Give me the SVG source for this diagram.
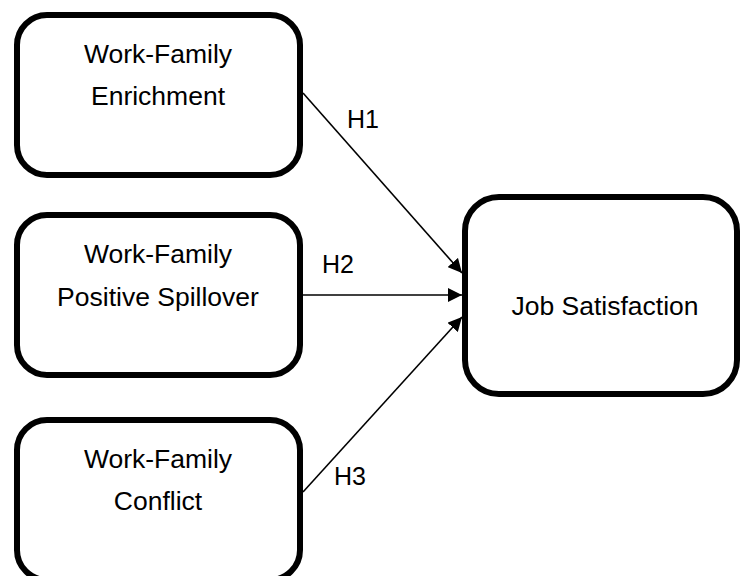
<svg xmlns="http://www.w3.org/2000/svg" width="740" height="576" viewBox="0 0 740 576">
<style>
.box{fill:#fff;stroke:#000;stroke-width:6}
.t{font-family:"Liberation Sans",Arial,sans-serif;font-size:26.5px;fill:#000;text-anchor:middle}
.h{font-family:"Liberation Sans",Arial,sans-serif;font-size:25px;fill:#000}
.c{stroke:#000;stroke-width:1.6;fill:none;marker-end:url(#ah)}
</style>
<defs>
<marker id="ah" markerUnits="userSpaceOnUse" markerWidth="14" markerHeight="14" viewBox="0 0 14 14" refX="14" refY="7" orient="auto">
<path d="M0,0 L14,7 L0,14 Z" fill="#000"/>
</marker>
</defs>
<rect width="740" height="576" fill="#fff"/>
<g id="connectors">
<line class="c" x1="303" y1="93" x2="462" y2="273"/>
<line class="c" x1="303" y1="295" x2="462" y2="295"/>
<line class="c" x1="303" y1="492" x2="462" y2="317"/>
<text class="h" x="347" y="128">H1</text>
<text class="h" x="322" y="273">H2</text>
<text class="h" x="334" y="485">H3</text>
</g>
<g id="node-enrichment">
<rect class="box" x="17" y="15" width="283" height="160" rx="30" ry="30"/>
<text class="t" x="158" y="63">Work-Family</text>
<text class="t" x="158" y="105">Enrichment</text>
</g>
<g id="node-spillover">
<rect class="box" x="17" y="215" width="283" height="160" rx="30" ry="30"/>
<text class="t" x="158" y="263">Work-Family</text>
<text class="t" x="158" y="306">Positive Spillover</text>
</g>
<g id="node-conflict">
<rect class="box" x="17" y="420" width="283" height="160" rx="30" ry="30"/>
<text class="t" x="158" y="468">Work-Family</text>
<text class="t" x="158" y="510">Conflict</text>
</g>
<g id="node-job">
<rect class="box" x="465" y="197" width="272" height="197" rx="34" ry="34"/>
<text class="t" x="605" y="315">Job Satisfaction</text>
</g>
</svg>
